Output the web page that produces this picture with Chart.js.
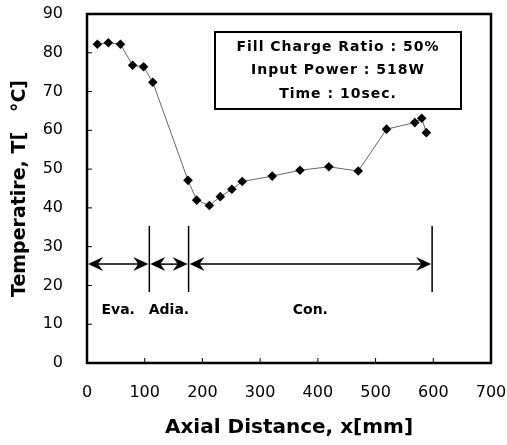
<!DOCTYPE html>
<html>
<head>
<meta charset="utf-8">
<script src="https://cdn.jsdelivr.net/npm/chart.js@4.4.0/dist/chart.umd.min.js"></script>
<style>
  body { margin: 0; background: #fff; }
  #wrap { width: 507px; height: 445px; }
</style>
</head>
<body>
<div id="wrap"><canvas id="myChart"></canvas></div>
<script>
// axial position [mm] and wall temperature [°C]
const distance = [18, 37, 58, 79, 98, 114, 175, 190, 212, 231, 251, 269, 321, 369, 419, 470, 519, 568, 580, 588];
const temperature = [82.2, 82.6, 82.2, 76.8, 76.4, 72.4, 47.1, 42.0, 40.6, 42.9, 44.8, 46.8, 48.2, 49.7, 50.6, 49.5, 60.3, 62.0, 63.1, 59.4];

// section boundaries [mm] and names
const zoneBounds = [0, 108, 176, 598];
const zoneNames = ['Eva.', 'Adia.', 'Con.'];
const arrowLevel = 25.5;

const infoLines = ['Fill Charge Ratio : 50%', 'Input Power : 518W', 'Time : 10sec.'];

const FONT = 'DejaVu Sans';

// draws the frame, inside ticks, section arrows and the text box
const extras = {
  id: 'extras',
  afterDatasetsDraw(chart) {
    const ctx = chart.ctx;
    const area = chart.chartArea;
    const xs = chart.scales.x;
    const ys = chart.scales.y;
    ctx.save();
    ctx.strokeStyle = '#000';
    ctx.fillStyle = '#000';

    // inside ticks
    ctx.lineWidth = 1;
    ctx.beginPath();
    xs.ticks.forEach((t) => {
      const px = xs.getPixelForValue(t.value);
      ctx.moveTo(px, area.bottom);
      ctx.lineTo(px, area.bottom - 5);
    });
    ys.ticks.forEach((t) => {
      const py = ys.getPixelForValue(t.value);
      ctx.moveTo(area.left, py);
      ctx.lineTo(area.left + 5, py);
    });
    ctx.stroke();

    // frame
    ctx.lineWidth = 2.5;
    ctx.strokeRect(area.left, area.top, area.right - area.left, area.bottom - area.top);

    // section dividers
    const ay = ys.getPixelForValue(arrowLevel);
    ctx.lineWidth = 1.5;
    ctx.beginPath();
    zoneBounds.slice(1).forEach((b) => {
      const px = xs.getPixelForValue(b);
      ctx.moveTo(px, ay - 38);
      ctx.lineTo(px, ay + 28);
    });
    ctx.stroke();

    // double arrows
    const head = (tx, dir) => {
      ctx.beginPath();
      ctx.moveTo(tx, ay);
      ctx.lineTo(tx - dir * 15, ay - 7);
      ctx.lineTo(tx - dir * 10, ay);
      ctx.lineTo(tx - dir * 15, ay + 7);
      ctx.closePath();
      ctx.fill();
    };
    for (let i = 0; i < zoneBounds.length - 1; i++) {
      const x0 = xs.getPixelForValue(zoneBounds[i]);
      const x1 = xs.getPixelForValue(zoneBounds[i + 1]);
      ctx.lineWidth = 1.5;
      ctx.beginPath();
      ctx.moveTo(x0 + 10, ay);
      ctx.lineTo(x1 - 10, ay);
      ctx.stroke();
      head(x0 + 1, -1);
      head(x1 - 1, 1);
      ctx.font = 'bold 14px ' + FONT;
      ctx.textAlign = 'center';
      ctx.textBaseline = 'middle';
      ctx.fillText(zoneNames[i], (x0 + x1) / 2, ay + 46);
    }

    // text box
    const bx = 215, by = 32, bw = 246, bh = 77;
    ctx.fillStyle = '#fff';
    ctx.fillRect(bx, by, bw, bh);
    ctx.lineWidth = 2;
    ctx.strokeRect(bx, by, bw, bh);
    ctx.fillStyle = '#000';
    ctx.font = 'bold 14px ' + FONT;
    ctx.letterSpacing = '1px';
    ctx.textAlign = 'center';
    ctx.textBaseline = 'middle';
    infoLines.forEach((line, i) => {
      ctx.fillText(line, bx + bw / 2, by + 15.5 + i * 23.2);
    });
    ctx.restore();
  }
};

const ctx = document.getElementById('myChart').getContext('2d');

const data = {
  datasets: [{
    data: distance.map((d, i) => ({ x: d, y: temperature[i] })),
    borderColor: '#666',
    borderWidth: 1,
    pointStyle: 'rectRot',
    pointRadius: 4.8,
    pointBackgroundColor: '#000',
    pointBorderColor: '#000',
    pointBorderWidth: 0,
    tension: 0
  }]
};

const config = {
  type: 'line',
  data: data,
  options: {
    responsive: true,
    maintainAspectRatio: false,
    animation: false,
    layout: { padding: { top: 14, right: 16, left: 0, bottom: 0 } },
    plugins: { legend: { display: false }, tooltip: { enabled: false } },
    scales: {
      x: {
        type: 'linear',
        min: 0,
        max: 700,
        ticks: { stepSize: 100, padding: 20, color: '#000', font: { family: FONT, size: 16 } },
        grid: { display: false, drawTicks: false },
        border: { display: false },
        title: {
          display: true,
          text: 'Axial Distance, x[mm]',
          color: '#000',
          font: { family: FONT, size: 20, weight: 'bold' },
          padding: { top: 0, bottom: 5 }
        },
        afterFit(scale) {
          scale.height = 82;
          scale.paddingLeft = 0;
          scale.paddingRight = 0;
        }
      },
      y: {
        min: 0,
        max: 90,
        ticks: { stepSize: 10, padding: 24, color: '#000', font: { family: FONT, size: 16 } },
        grid: { display: false, drawTicks: false },
        border: { display: false },
        title: {
          display: true,
          text: 'Temperatire, T[   °C]',
          color: '#000',
          font: { family: FONT, size: 19, weight: 'bold' },
          padding: { top: 9, bottom: 0 }
        },
        afterFit(scale) {
          scale.width = 87;
          scale.paddingTop = 0;
          scale.paddingBottom = 0;
        }
      }
    }
  },
  plugins: [extras]
};

const myChart = new Chart(ctx, config);
</script>
</body>
</html>
